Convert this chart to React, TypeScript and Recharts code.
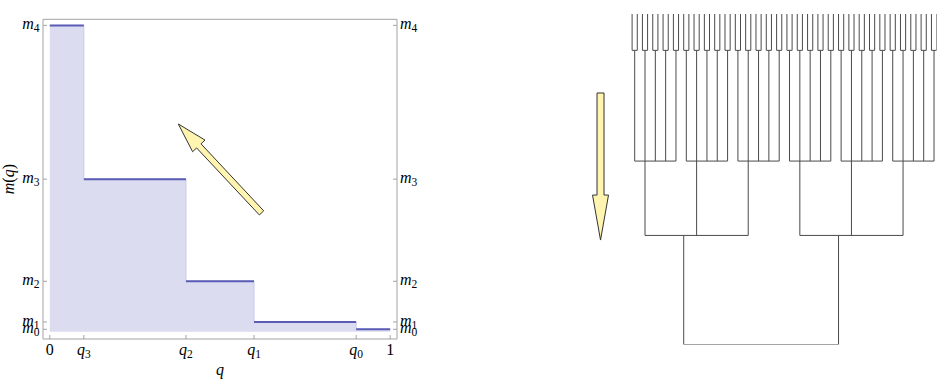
import { ComposedChart, LineChart, Area, Line, XAxis, YAxis, ReferenceLine, Label } from "recharts";

// left panel: Parisi order parameter m(q)
const qTicks = [0, 0.1, 0.4, 0.6, 0.9, 1];
const qNames = ["0", "q3", "q2", "q1", "q0", "1"];
const mTicks = [0, 0.024, 0.158, 0.494, 1];
const mNames = ["m0", "m1", "m2", "m3", "m4"];
const stepQ = [0, 0.1, 0.4, 0.6, 0.9, 1];
const stepM = [1, 0.494, 0.158, 0.024, 0, 0];
const upArrow = [
  { x: 0.622, y: 0.383 },
  { x: 0.3775, y: 0.6755 },
];

// right panel: ultrametric tree, leaves -> pairs -> groups of five -> clusters of three -> root
const leafCount = 60;
const mergeHeights = [0, 1.1, 4.45, 6.7, 10];
const groupDrops = [2.5, 12.5, 22.5, 32.5, 42.5, 52.5];
const clusterDrops = [10, 40];
const downArrow = [
  { x: -6.12, y: 2.39 },
  { x: -6.12, y: 6.84 },
];

const FONT = '"Liberation Serif", "Times New Roman", serif';
const FRAME = "#a3a3a3";

const stepData = stepQ.map((q, i) => ({ q, m: stepM[i] }));
const segData: { q: number; m: number | null }[] = [];
for (let i = 0; i < stepQ.length - 1; i++) {
  segData.push({ q: stepQ[i], m: stepM[i] }, { q: stepQ[i + 1], m: stepM[i] }, { q: stepQ[i + 1], m: null });
}

// tree segments
type Seg = [number, number, number, number];
const segs: Seg[] = [];
const join = (kids: number[], h: number, kidH: number) => {
  segs.push([Math.min(...kids), h, Math.max(...kids), h]);
  kids.forEach((k) => segs.push([k, h, k, kidH]));
};
const pairX: number[] = [];
for (let p = 0; p < leafCount / 2; p++) {
  join([2 * p, 2 * p + 1], mergeHeights[1], mergeHeights[0]);
  pairX.push(2 * p + 0.5);
}
groupDrops.forEach((_, g) => join(pairX.slice(5 * g, 5 * g + 5), mergeHeights[2], mergeHeights[1]));
clusterDrops.forEach((_, c) => join(groupDrops.slice(3 * c, 3 * c + 3), mergeHeights[3], mergeHeights[2]));
join(clusterDrops, mergeHeights[4], mergeHeights[3]);
const treeData: { x: number; y: number | null }[] = [];
segs.forEach(([x1, y1, x2, y2]) => treeData.push({ x: x1, y: y1 }, { x: x2, y: y2 }, { x: x2, y: null }));

function MathText({ x, y, text, anchor }: { x: number; y: number; text: string; anchor: string }) {
  if (text.length === 1) {
    return (
      <text x={x} y={y} textAnchor={anchor} fontSize={16} fontFamily={FONT} fill="#000">
        {text}
      </text>
    );
  }
  return (
    <text x={x} y={y} textAnchor={anchor} fontSize={16} fontFamily={FONT} fill="#000">
      <tspan fontStyle="italic">{text[0]}</tspan>
      <tspan fontSize={11.5} dy={3}>
        {text.slice(1)}
      </tspan>
    </text>
  );
}

const qName = (v: number) => qNames[qTicks.indexOf(v)] ?? "";
const mName = (v: number) => mNames[mTicks.indexOf(v)] ?? "";

const arrowShape = (s: number, h: number, hl: number) => (p: any) => {
  const { x1, y1, x2, y2 } = p;
  const L = Math.hypot(x2 - x1, y2 - y1);
  const ux = (x2 - x1) / L;
  const uy = (y2 - y1) / L;
  const nx = -uy;
  const ny = ux;
  const bx = x2 - ux * hl;
  const by = y2 - uy * hl;
  const pts = [
    [x1 + nx * s, y1 + ny * s],
    [bx + nx * s, by + ny * s],
    [bx + nx * h, by + ny * h],
    [x2, y2],
    [bx - nx * h, by - ny * h],
    [bx - nx * s, by - ny * s],
    [x1 - nx * s, y1 - ny * s],
  ];
  return <polygon points={pts.map((q) => q.join(",")).join(" ")} fill="#fff4b0" stroke="#333" strokeWidth={1} />;
};

export default function App() {
  return (
    <div style={{ position: "absolute", left: 0, top: 0, width: 946, height: 382, background: "#fff" }}>
      <div style={{ position: "absolute", left: 0, top: 0 }}>
        <ComposedChart width={440} height={382} margin={{ top: 0, right: 0, bottom: 0, left: 0 }}>
          <XAxis
            xAxisId="b"
            type="number"
            dataKey="q"
            domain={[-0.02, 1.02]}
            allowDataOverflow
            ticks={qTicks}
            interval={0}
            height={43}
            stroke={FRAME}
            tickSize={-4}
            tickMargin={4}
            tick={(p: any) => <MathText x={p.x} y={p.y + 16} text={qName(p.payload.value)} anchor="middle" />}
          >
            <Label
              content={(p: any) => (
                <text
                  x={p.viewBox.x + p.viewBox.width / 2}
                  y={p.viewBox.y + 36}
                  textAnchor="middle"
                  fontSize={16}
                  fontStyle="italic"
                  fontFamily={FONT}
                >
                  q
                </text>
              )}
            />
          </XAxis>
          <XAxis
            xAxisId="t"
            orientation="top"
            type="number"
            domain={[-0.02, 1.02]}
            allowDataOverflow
            ticks={qTicks}
            interval={0}
            height={19.3}
            stroke={FRAME}
            tickSize={-4}
            tickMargin={4}
            tick={(p: any) => <MathText x={p.x} y={p.y - 6} text={qName(p.payload.value)} anchor="middle" />}
          />
          <YAxis
            yAxisId="l"
            type="number"
            domain={[-0.032, 1.02]}
            allowDataOverflow
            ticks={mTicks}
            interval={0}
            width={43}
            stroke={FRAME}
            tickSize={-4}
            tickMargin={4}
            tick={(p: any) => <MathText x={p.x - 3.5} y={p.y + 4} text={mName(p.payload.value)} anchor="end" />}
          >
            <Label
              content={(p: any) => {
                const cy = p.viewBox.y + p.viewBox.height / 2;
                return (
                  <text x={14.5} y={cy} textAnchor="middle" fontSize={16} fontFamily={FONT} transform={`rotate(-90, 14.5, ${cy})`}>
                    <tspan fontStyle="italic">m</tspan>(<tspan fontStyle="italic">q</tspan>)
                  </text>
                );
              }}
            />
          </YAxis>
          <YAxis
            yAxisId="r"
            orientation="right"
            type="number"
            domain={[-0.032, 1.02]}
            allowDataOverflow
            ticks={mTicks}
            interval={0}
            width={43}
            stroke={FRAME}
            tickSize={-4}
            tickMargin={4}
            tick={(p: any) => <MathText x={p.x + 3} y={p.y + 4} text={mName(p.payload.value)} anchor="start" />}
          />
          <Area
            xAxisId="b"
            yAxisId="l"
            data={stepData}
            dataKey="m"
            type="stepAfter"
            baseValue={-0.008}
            fill="#dbdcf0"
            fillOpacity={1}
            stroke="#c8caec"
            strokeWidth={1}
            isAnimationActive={false}
          />
          <Line
            xAxisId="b"
            yAxisId="l"
            data={segData}
            dataKey="m"
            stroke="#5a5cb6"
            strokeWidth={2}
            dot={false}
            activeDot={false}
            connectNulls={false}
            isAnimationActive={false}
          />
          <ReferenceLine xAxisId="b" yAxisId="l" segment={upArrow} shape={arrowShape(3, 8.5, 30)} />
        </ComposedChart>
      </div>
      <div style={{ position: "absolute", left: 570, top: 0 }}>
        <LineChart width={376} height={382} data={treeData} margin={{ top: 14, right: 9.4, bottom: 37.5, left: 10.5 }}>
          <XAxis type="number" dataKey="x" domain={[-10, 59]} allowDataOverflow hide />
          <YAxis type="number" domain={[0, 10]} allowDataOverflow reversed hide />
          <Line
            dataKey="y"
            stroke="#4a4a4a"
            strokeWidth={1}
            dot={false}
            activeDot={false}
            connectNulls={false}
            isAnimationActive={false}
          />
          <ReferenceLine segment={downArrow} shape={arrowShape(3.5, 8, 45)} />
        </LineChart>
      </div>
    </div>
  );
}
